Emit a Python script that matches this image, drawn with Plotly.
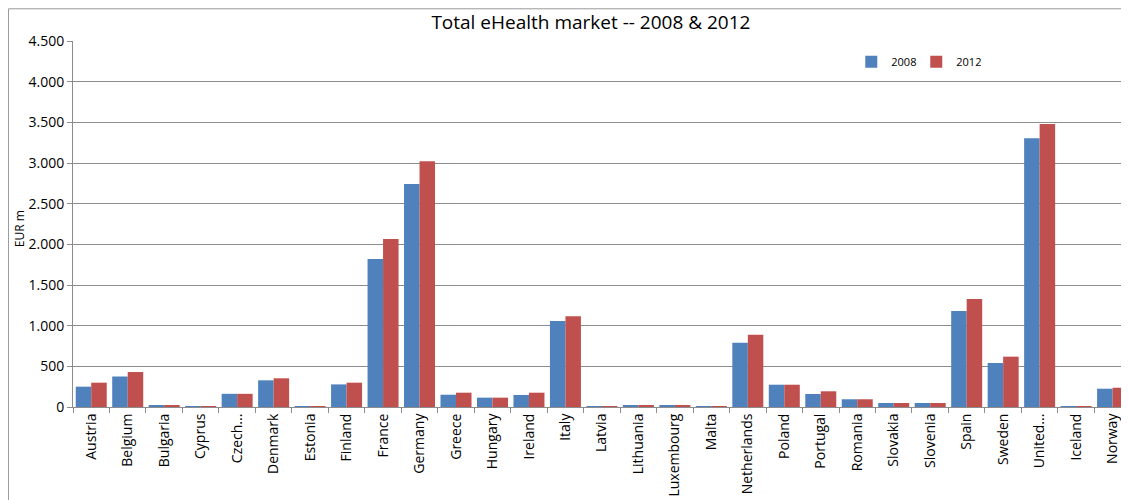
import plotly.graph_objects as go

countries = ["Austria", "Belgium", "Bulgaria", "Cyprus", "Czech...", "Denmark", "Estonia",
             "Finland", "France", "Germany", "Greece", "Hungary", "Ireland", "Italy",
             "Latvia", "Lithuania", "Luxembourg", "Malta", "Netherlands", "Poland",
             "Portugal", "Romania", "Slovakia", "Slovenia", "Spain", "Sweden",
             "United...", "Iceland", "Norway"]

values_2008 = [250, 375, 25, 3, 162, 328, 10, 278, 1820, 2742, 151, 115, 148, 1057,
               10, 25, 25, 3, 791, 274, 160, 95, 49, 49, 1180, 541, 3305, 10, 225]
values_2012 = [299, 430, 22, 3, 162, 353, 12, 299, 2066, 3020, 176, 115, 176, 1115,
               12, 25, 25, 3, 889, 274, 193, 95, 49, 49, 1328, 619, 3480, 12, 237]

y_ticks = [0, 500, 1000, 1500, 2000, 2500, 3000, 3500, 4000, 4500]

font = "Open Sans"

fig = go.Figure()
fig.add_trace(go.Bar(name="2008", x=countries, y=values_2008,
                     marker=dict(color="#4F81BD", line=dict(width=0))))
fig.add_trace(go.Bar(name="2012", x=countries, y=values_2012,
                     marker=dict(color="#C0504D", line=dict(width=0))))

fig.update_layout(
    width=1121, height=492,
    margin=dict(l=65, r=0, t=33, b=93),
    paper_bgcolor="white", plot_bgcolor="white",
    separators=",.",
    barmode="group", bargap=0.15, bargroupgap=0,
    font=dict(family=font, color="#000000"),
    title=dict(text="Total eHealth market -- 2008 & 2012", x=0.520, xanchor="center",
               y=0.9715, yanchor="middle", font=dict(size=19, family=font, color="#000")),
    legend=dict(orientation="h", x=0.737, y=0.943, xanchor="left", yanchor="middle",
                font=dict(size=11, family=font), bgcolor="rgba(0,0,0,0)",
                itemwidth=30, entrywidth=20, traceorder="normal"),
    xaxis=dict(type="category", range=[-0.5, 28.45], tickangle=-90,
               tickfont=dict(size=14, family=font, color="#000"),
               showline=True, linecolor="#8c8c8c", linewidth=1,
               ticks="outside", tickson="boundaries", ticklen=5, tickcolor="#8c8c8c",
               showgrid=False),
    yaxis=dict(range=[0, 4500], tickvals=y_ticks, tickformat=",d",
               tickfont=dict(size=14, family=font, color="#000"),
               showline=True, linecolor="#8c8c8c", linewidth=1,
               ticks="outside", ticklen=5, tickcolor="#8c8c8c",
               showgrid=True, gridcolor="#8c8c8c", gridwidth=1, zeroline=False),
    annotations=[dict(text="EUR m", textangle=-90, x=-0.051, y=0.486, xref="paper", yref="paper",
                      xanchor="center", yanchor="middle", showarrow=False,
                      font=dict(size=12, family=font, color="#000"))],
    shapes=[dict(type="rect", xref="paper", yref="paper", x0=-0.0611, x1=1.02, y0=-0.5, y1=1.088,
                 line=dict(color="#9a9a9a", width=1), fillcolor="rgba(0,0,0,0)", layer="below")],
)

fig.write_html("out.html")
